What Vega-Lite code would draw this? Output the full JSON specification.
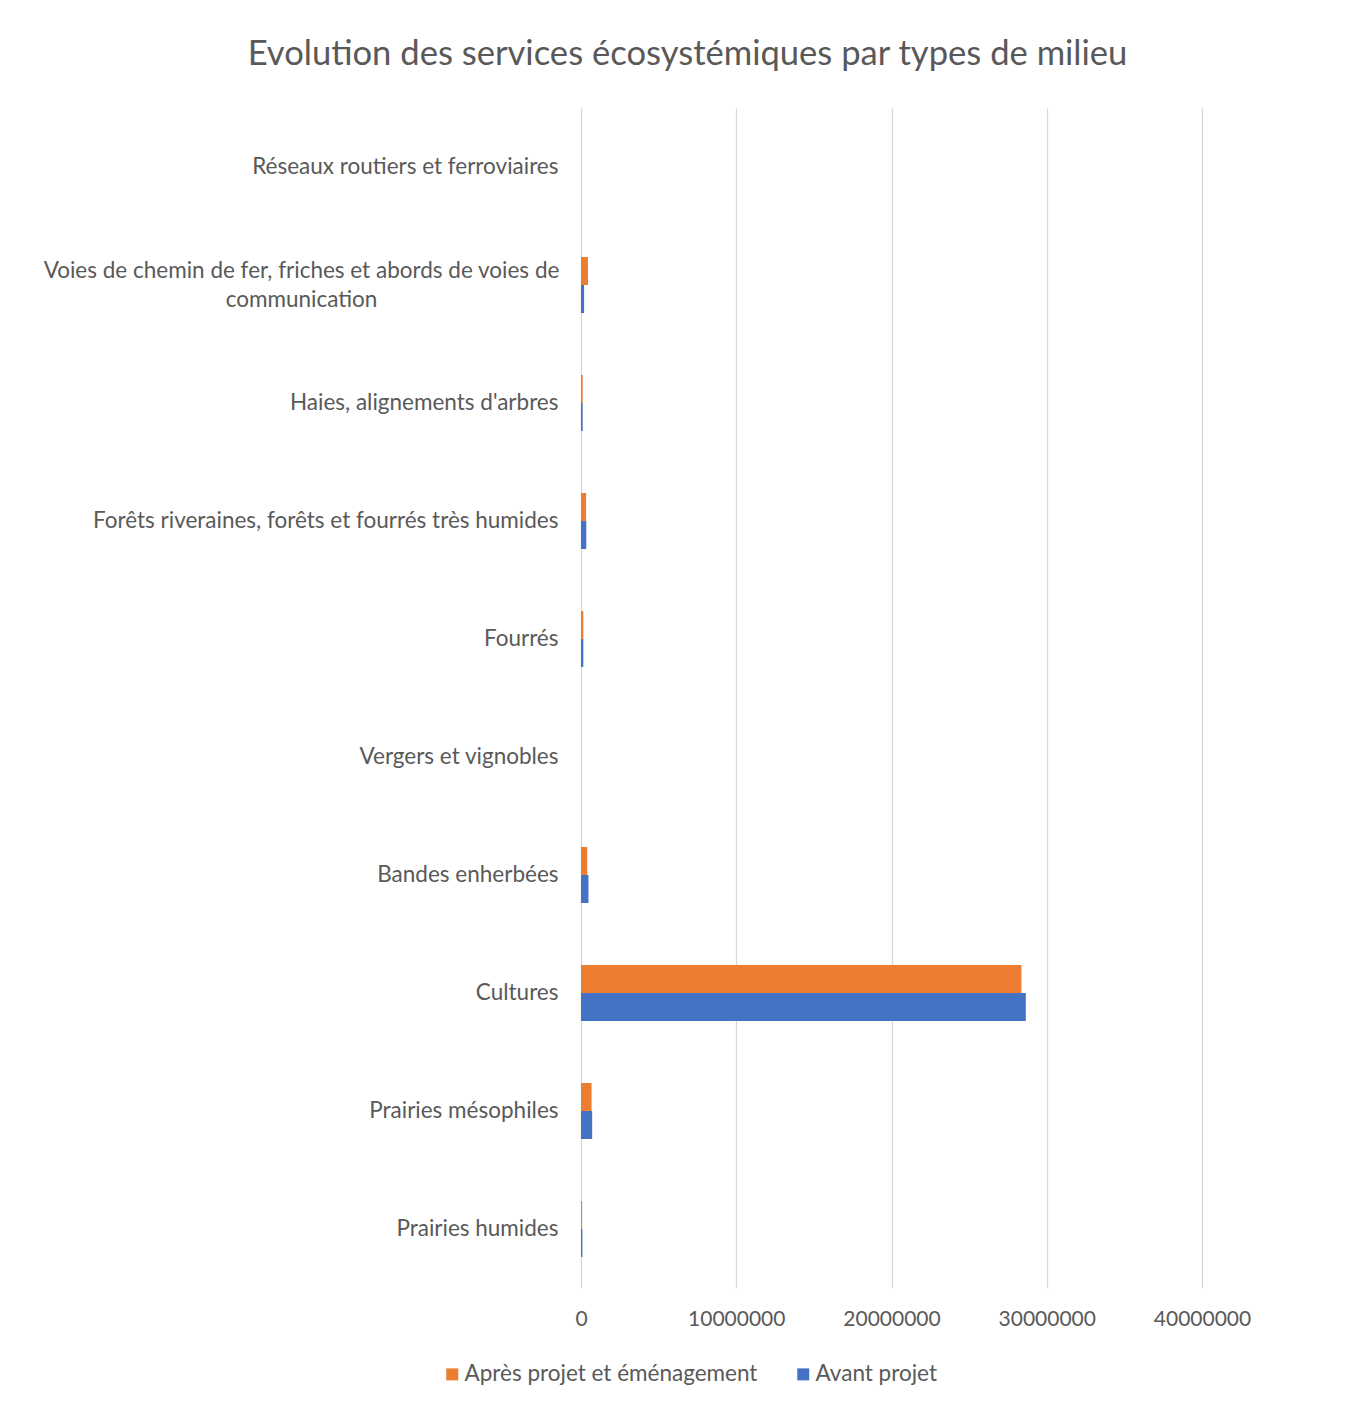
{
  "$schema": "https://vega.github.io/schema/vega-lite/v6.json",
  "autosize": {"type": "none"},
  "width": 621,
  "height": 1180,
  "padding": {"left": 581, "top": 108, "right": 149, "bottom": 115},
  "background": "white",
  "title": {
    "text": "Evolution des services écosystémiques par types de milieu",
    "anchor": "middle",
    "frame": "group",
    "dx": -204,
    "offset": 8,
    "baseline": "alphabetic",
    "font": "Lato",
    "fontSize": 34.6,
    "fontWeight": "normal",
    "color": "#595959"
  },
  "data": {
    "values": [
      {"milieu": "Réseaux routiers et ferroviaires", "serie": "Après projet et éménagement", "valeur": 0},
      {"milieu": "Réseaux routiers et ferroviaires", "serie": "Avant projet", "valeur": 0},
      {"milieu": "Voies de chemin de fer, friches et abords de voies de communication", "serie": "Après projet et éménagement", "valeur": 450000},
      {"milieu": "Voies de chemin de fer, friches et abords de voies de communication", "serie": "Avant projet", "valeur": 200000},
      {"milieu": "Haies, alignements d'arbres", "serie": "Après projet et éménagement", "valeur": 110000},
      {"milieu": "Haies, alignements d'arbres", "serie": "Avant projet", "valeur": 110000},
      {"milieu": "Forêts riveraines, forêts et fourrés très humides", "serie": "Après projet et éménagement", "valeur": 330000},
      {"milieu": "Forêts riveraines, forêts et fourrés très humides", "serie": "Avant projet", "valeur": 340000},
      {"milieu": "Fourrés", "serie": "Après projet et éménagement", "valeur": 150000},
      {"milieu": "Fourrés", "serie": "Avant projet", "valeur": 150000},
      {"milieu": "Vergers et vignobles", "serie": "Après projet et éménagement", "valeur": 0},
      {"milieu": "Vergers et vignobles", "serie": "Avant projet", "valeur": 0},
      {"milieu": "Bandes enherbées", "serie": "Après projet et éménagement", "valeur": 400000},
      {"milieu": "Bandes enherbées", "serie": "Avant projet", "valeur": 480000},
      {"milieu": "Cultures", "serie": "Après projet et éménagement", "valeur": 28370000},
      {"milieu": "Cultures", "serie": "Avant projet", "valeur": 28650000},
      {"milieu": "Prairies mésophiles", "serie": "Après projet et éménagement", "valeur": 680000},
      {"milieu": "Prairies mésophiles", "serie": "Avant projet", "valeur": 720000},
      {"milieu": "Prairies humides", "serie": "Après projet et éménagement", "valeur": 70000},
      {"milieu": "Prairies humides", "serie": "Avant projet", "valeur": 90000}
    ]
  },
  "mark": {"type": "bar"},
  "encoding": {
    "y": {
      "field": "milieu",
      "type": "nominal",
      "sort": [
        "Réseaux routiers et ferroviaires",
        "Voies de chemin de fer, friches et abords de voies de communication",
        "Haies, alignements d'arbres",
        "Forêts riveraines, forêts et fourrés très humides",
        "Fourrés",
        "Vergers et vignobles",
        "Bandes enherbées",
        "Cultures",
        "Prairies mésophiles",
        "Prairies humides"
      ],
      "scale": {"paddingInner": 0.525, "paddingOuter": 0.2625},
      "axis": {
        "title": null,
        "domain": false,
        "ticks": false,
        "grid": false,
        "labelFont": "Lato",
        "labelFontSize": 22.5,
        "labelColor": "#595959",
        "labelLimit": 0,
        "labelLineHeight": 29,
        "labelBaseline": "middle",
        "labelAlign": {"condition": {"test": "indexof(datum.value, 'Voies') == 0", "value": "center"}, "value": "right"},
        "labelPadding": {"condition": {"test": "indexof(datum.value, 'Voies') == 0", "value": 280}, "value": 23},
        "labelOffset": {"condition": {"test": "indexof(datum.value, 'Voies') == 0", "value": -14.5}, "value": 0},
        "labelExpr": "indexof(datum.value, 'Voies') == 0 ? ['Voies de chemin de fer, friches et abords de voies de', 'communication'] : datum.value"
      }
    },
    "yOffset": {
      "field": "serie",
      "type": "nominal",
      "sort": ["Après projet et éménagement", "Avant projet"],
      "scale": {"paddingInner": 0, "paddingOuter": 0}
    },
    "x": {
      "field": "valeur",
      "type": "quantitative",
      "scale": {"domain": [0, 40000000], "nice": false},
      "axis": {
        "title": null,
        "values": [0, 10000000, 20000000, 30000000, 40000000],
        "format": "d",
        "domain": false,
        "ticks": false,
        "grid": true,
        "gridColor": "#d9d9d9",
        "gridWidth": 1.3,
        "labelFlush": false,
        "labelFont": "Lato",
        "labelFontSize": 21,
        "labelColor": "#595959",
        "labelPadding": 20
      }
    },
    "color": {
      "field": "serie",
      "type": "nominal",
      "sort": ["Après projet et éménagement", "Avant projet"],
      "scale": {"range": ["#ED7D31", "#4472C4"]},
      "legend": {
        "title": null,
        "orient": "none",
        "direction": "horizontal",
        "legendX": -140,
        "legendY": 1255,
        "symbolType": "square",
        "symbolSize": 144,
        "symbolStrokeWidth": 0,
        "symbolOpacity": 1,
        "labelFont": "Lato",
        "labelFontSize": 22.5,
        "labelLimit": 500,
        "labelColor": "#595959",
        "labelOffset": 1,
        "columnPadding": 34
      }
    }
  },
  "config": {
    "view": {"stroke": null},
    "bar": {"stroke": null}
  }
}
